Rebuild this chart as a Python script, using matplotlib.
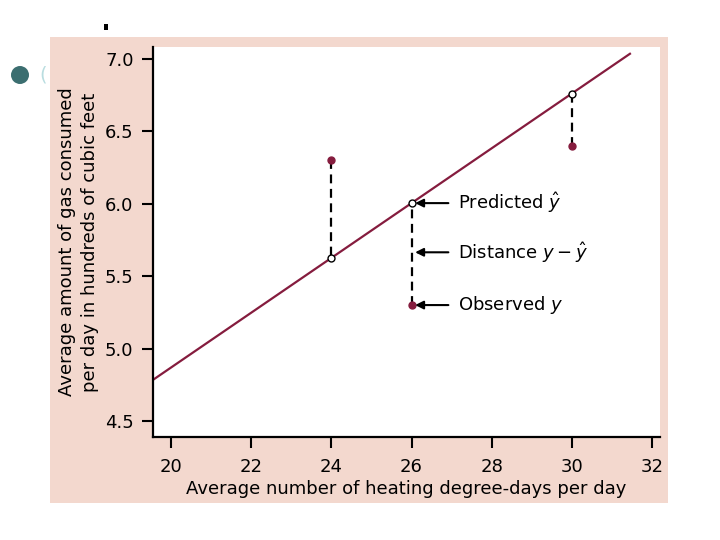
import numpy as np
import matplotlib
matplotlib.use("Agg")
import matplotlib.pyplot as plt
from matplotlib.patches import Rectangle, Ellipse

# data
degree_days = [24, 26, 30]
observed = [6.3, 5.3, 6.4]
intercept = 1.0892
slope = 0.1890
predicted = [intercept + slope * x for x in degree_days]
line_x = [19.55, 31.45]
line_y = [intercept + slope * x for x in line_x]

x_ticks = [20, 22, 24, 26, 28, 30, 32]
y_ticks = [4.5, 5.0, 5.5, 6.0, 6.5, 7.0]

pink = "#f3d8ce"
maroon = "#851c3e"

fig = plt.figure(figsize=(7.2, 5.4), dpi=100)
fig.patch.set_facecolor("white")

# pink panel behind the plot
fig.patches.append(Rectangle((50 / 720, 1 - 503 / 540), 618 / 720, 466 / 540,
                             transform=fig.transFigure, facecolor=pink,
                             edgecolor="none", zorder=-5))
# slide decorations
fig.patches.append(Ellipse((20 / 720, 1 - 75 / 540), 18 / 720, 18 / 540,
                           transform=fig.transFigure, facecolor="#3b6e70",
                           edgecolor="none"))
fig.patches.append(Rectangle((104 / 720, 1 - 30 / 540), 4 / 720, 6 / 540,
                             transform=fig.transFigure, facecolor="black",
                             edgecolor="none"))
fig.text(43 / 720, 1 - 75 / 540, "(", color="#b9dde0", fontsize=14,
         ha="center", va="center")

ax = fig.add_axes([153 / 720, 1 - 437 / 540, 507 / 720, 390 / 540])
ax.set_zorder(2)
ax.set_facecolor("white")

ax.plot(line_x, line_y, color=maroon, lw=1.6, zorder=2)

for x, yo, yp in zip(degree_days, observed, predicted):
    ax.plot([x, x], [yo, yp], color="black", lw=1.6, ls=(0, (4, 2.5)), zorder=1)

ax.plot(degree_days, observed, "o", color=maroon, ms=5, zorder=3)
ax.plot(degree_days, predicted, "o", mfc="white", mec="black", mew=1.0,
        ms=5, zorder=4)

labels = ["Predicted $\\hat{y}$", "Distance $y-\\hat{y}$", "Observed $y$"]
label_y = [predicted[1], 5.664, observed[1]]
for txt, yv in zip(labels, label_y):
    ax.annotate("", xy=(26.09, yv), xytext=(26.92, yv),
                arrowprops=dict(arrowstyle="-|>", color="black", lw=1.5,
                                mutation_scale=12, shrinkA=0, shrinkB=0))
    ax.text(27.15, yv, txt, fontsize=13, va="center", ha="left")

ax.set_xlim(19.55, 32.2)
ax.set_ylim(4.39, 7.08)
ax.set_xticks(x_ticks)
ax.set_yticks(y_ticks)
ax.set_yticklabels([f"{v:.1f}" for v in y_ticks])
ax.tick_params(direction="out", length=8, width=1.5, labelsize=13)
ax.tick_params(axis="x", pad=7)
ax.tick_params(axis="y", pad=6)

for side in ["top", "right"]:
    ax.spines[side].set_visible(False)
for side in ["left", "bottom"]:
    ax.spines[side].set_linewidth(1.6)

ax.set_xlabel("Average number of heating degree-days per day", fontsize=13,
              labelpad=3)
ax.set_ylabel("Average amount of gas consumed\nper day in hundreds of cubic feet",
              fontsize=13, labelpad=4, linespacing=1.35)

fig.savefig("out.png", dpi=100)
